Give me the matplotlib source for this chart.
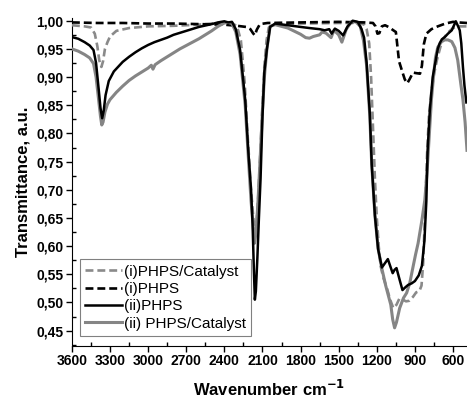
import matplotlib
matplotlib.use('Agg')
import matplotlib.pyplot as plt
from matplotlib.ticker import MultipleLocator, FuncFormatter

plt.rcParams['font.family'] = ['Liberation Sans', 'DejaVu Sans']

# (i) PHPS/Catalyst - gray dashed
wn_i_cat = [3600, 3500, 3450, 3420, 3400, 3385, 3368, 3355, 3340, 3320, 3300, 3250, 3150, 3000,
            2800, 2600, 2450, 2400, 2340, 2300, 2270, 2240, 2215, 2190, 2172, 2160, 2150, 2135,
            2118, 2100, 2085, 2068, 2050, 2000, 1800, 1500, 1330, 1300, 1280, 1260, 1245, 1230,
            1215, 1200, 1185, 1170, 1150, 1120, 1095, 1070, 1045, 1020, 995, 970, 945, 915, 890,
            865, 848, 835, 820, 805, 790, 770, 750, 725, 700, 680, 640, 600, 560, 490]
t_i_cat = [0.992, 0.990, 0.988, 0.977, 0.955, 0.930, 0.918, 0.928, 0.950, 0.962, 0.972, 0.982, 0.987, 0.990,
           0.991, 0.993, 0.996, 0.997, 0.996, 0.990, 0.965, 0.890, 0.790, 0.700, 0.650, 0.625, 0.630, 0.680,
           0.760, 0.850, 0.920, 0.965, 0.988, 0.994, 0.995, 0.996, 0.996, 0.993, 0.985, 0.960, 0.900, 0.810,
           0.720, 0.650, 0.600, 0.565, 0.545, 0.525, 0.505, 0.490, 0.496, 0.508, 0.505, 0.502, 0.503, 0.510, 0.518,
           0.520, 0.530, 0.570, 0.660, 0.760, 0.830, 0.875, 0.905, 0.932, 0.953, 0.967, 0.979, 0.987, 0.990, 0.990]

# (i) PHPS - black dashed
wn_i_phps = [3600, 3400, 3200, 3000, 2800, 2600, 2400, 2300, 2230, 2195, 2175, 2160, 2145, 2120,
             2060, 1800, 1500, 1300, 1230, 1210, 1195, 1180, 1160, 1135, 1100, 1070, 1050, 1038,
             1025, 1000, 980, 960, 940, 915, 890, 860, 845, 830, 810, 770, 720, 660, 600, 560, 490]
t_i_phps = [0.997, 0.996, 0.996, 0.995, 0.995, 0.994, 0.993, 0.991, 0.989, 0.985, 0.978, 0.974, 0.984, 0.994,
            0.996, 0.997, 0.998, 0.997, 0.996, 0.990, 0.977, 0.978, 0.990, 0.992, 0.988, 0.983, 0.980, 0.955,
            0.928, 0.910, 0.896, 0.889, 0.897, 0.908, 0.907, 0.906, 0.920, 0.958, 0.977, 0.985, 0.990, 0.995,
            0.998, 0.997, 0.996]

# (ii) PHPS - black solid
wn_ii_phps = [3600, 3550, 3500, 3460, 3430, 3410, 3390, 3375, 3362, 3350, 3335, 3310, 3270, 3200,
              3150, 3100, 3050, 3000, 2950, 2900, 2850, 2800, 2700, 2600, 2500, 2450, 2400, 2370,
              2340, 2310, 2276, 2236, 2212, 2190, 2178, 2168, 2160, 2152, 2140, 2128, 2115, 2100,
              2085, 2065, 2040, 2000, 1900, 1800, 1730, 1650, 1610, 1575, 1555, 1530, 1500, 1465,
              1430, 1390, 1350, 1320, 1300, 1280, 1255, 1240, 1215, 1190, 1160, 1135, 1113, 1095,
              1075, 1060, 1045, 1020, 998, 975, 954, 925, 900, 870, 845, 825, 810, 800, 783, 760,
              744, 720, 705, 688, 665, 640, 610, 578, 560, 547, 535, 522, 510, 495]
t_ii_phps = [0.971, 0.968, 0.962, 0.956, 0.948, 0.925, 0.880, 0.845, 0.827, 0.840, 0.868, 0.893, 0.910, 0.927,
             0.936, 0.944, 0.951, 0.957, 0.962, 0.966, 0.970, 0.975, 0.982, 0.989, 0.994, 0.997, 0.999, 0.997,
             0.998, 0.985, 0.948, 0.860, 0.770, 0.700, 0.640, 0.560, 0.505, 0.520, 0.580, 0.650, 0.720, 0.830,
             0.910, 0.950, 0.989, 0.995, 0.992, 0.989, 0.987, 0.985, 0.983, 0.985, 0.977, 0.986, 0.982, 0.974,
             0.990, 1.000, 0.998, 0.985, 0.970, 0.925, 0.835, 0.745, 0.655, 0.595, 0.562, 0.570, 0.577, 0.565,
             0.552, 0.558, 0.561, 0.540, 0.522, 0.527, 0.531, 0.534, 0.538, 0.548, 0.565, 0.610, 0.680, 0.770, 0.840, 0.900,
             0.920, 0.950, 0.960, 0.967, 0.971, 0.977, 0.983, 0.999, 0.990, 0.983, 0.960, 0.918, 0.885, 0.855]

# (ii) PHPS/Catalyst - gray solid
wn_ii_cat = [3600, 3550, 3500, 3460, 3430, 3410, 3390, 3375, 3365, 3355, 3340, 3320, 3300, 3250,
             3200, 3150, 3100, 3050, 3000, 2975, 2962, 2945, 2900, 2850, 2800, 2750, 2700, 2650,
             2600, 2550, 2500, 2450, 2400, 2370, 2340, 2310, 2276, 2236, 2212, 2190, 2175, 2163,
             2150, 2135, 2115, 2100, 2085, 2065, 2040, 2000, 1900, 1800, 1760, 1730, 1700, 1650,
             1630, 1600, 1560, 1537, 1500, 1475, 1440, 1400, 1365, 1330, 1305, 1280, 1255, 1240,
             1215, 1190, 1160, 1130, 1090, 1075, 1060, 1045, 1020, 990, 965, 940, 915, 895, 875,
             845, 822, 805, 793, 770, 750, 738, 720, 690, 665, 640, 610, 585, 563, 540, 522, 505, 490]
t_ii_cat = [0.950, 0.946, 0.940, 0.934, 0.924, 0.900, 0.860, 0.830, 0.815, 0.820, 0.838, 0.852, 0.860, 0.873,
            0.884, 0.894, 0.902, 0.909, 0.916, 0.921, 0.914, 0.922, 0.929, 0.936, 0.943, 0.950, 0.956, 0.962,
            0.968, 0.975, 0.982, 0.990, 0.996, 0.997, 0.995, 0.980, 0.940, 0.850, 0.760, 0.680, 0.640, 0.605,
            0.625, 0.680, 0.770, 0.840, 0.900, 0.950, 0.990, 0.993, 0.987, 0.976, 0.970, 0.969, 0.972, 0.975,
            0.980, 0.978, 0.970, 0.983, 0.975, 0.962, 0.985, 0.998, 0.998, 0.990, 0.965, 0.920, 0.830, 0.745,
            0.655, 0.596, 0.560, 0.530, 0.496, 0.470, 0.455, 0.465, 0.490, 0.508, 0.517, 0.535, 0.563, 0.585, 0.605,
            0.646, 0.682, 0.730, 0.774, 0.860, 0.910, 0.935, 0.953, 0.963, 0.966, 0.966, 0.963, 0.952, 0.930, 0.890,
            0.860, 0.820, 0.770]

fig = plt.figure(figsize=(4.67, 3.98), dpi=100)
ax = fig.add_axes([0.154, 0.131, 0.846, 0.824])

ax.plot(wn_i_cat, t_i_cat, color='#8a8a8a', lw=1.9, dashes=(3, 1.5), label='(i)PHPS/Catalyst', zorder=3)
ax.plot(wn_i_phps, t_i_phps, color='black', lw=1.9, dashes=(3, 1.5), label='(i)PHPS', zorder=4)
ax.plot(wn_ii_phps, t_ii_phps, color='black', lw=1.8, label='(ii)PHPS', zorder=5)
ax.plot(wn_ii_cat, t_ii_cat, color='#858585', lw=2.2, label='(ii) PHPS/Catalyst', zorder=4)

ax.set_xlim(3600, 490)
ax.set_ylim(0.423, 1.005)

ax.set_xticks(list(range(600, 3601, 300)))
ax.xaxis.set_minor_locator(MultipleLocator(150))
ax.yaxis.set_major_locator(MultipleLocator(0.05))
ax.yaxis.set_minor_locator(MultipleLocator(0.025))
ax.yaxis.set_major_formatter(FuncFormatter(lambda v, p: f'{v:.2f}'.replace('.', ',')))

ax.tick_params(which='major', direction='out', length=4, width=1, labelsize=10, pad=2)
ax.tick_params(which='minor', direction='in', length=3, width=1)
for lab in ax.get_xticklabels() + ax.get_yticklabels():
    lab.set_fontweight('bold')

for s in ['top', 'right']:
    ax.spines[s].set_visible(False)

ax.set_xlabel('Wavenumber cm$^{\\mathbf{-1}}$', fontsize=12, fontweight='bold', labelpad=8)
ax.set_ylabel('Transmittance, a.u.', fontsize=12, fontweight='bold', labelpad=4)

leg = ax.legend(loc='lower left', bbox_to_anchor=(0.02, 0.03), borderaxespad=0, fontsize=11,
                frameon=True, fancybox=False, edgecolor='#808080', framealpha=1,
                handlelength=2.4, handletextpad=0.15, labelspacing=0.22, borderpad=0.35)
leg.get_frame().set_linewidth(0.8)

plt.savefig('out.png', dpi=100)
